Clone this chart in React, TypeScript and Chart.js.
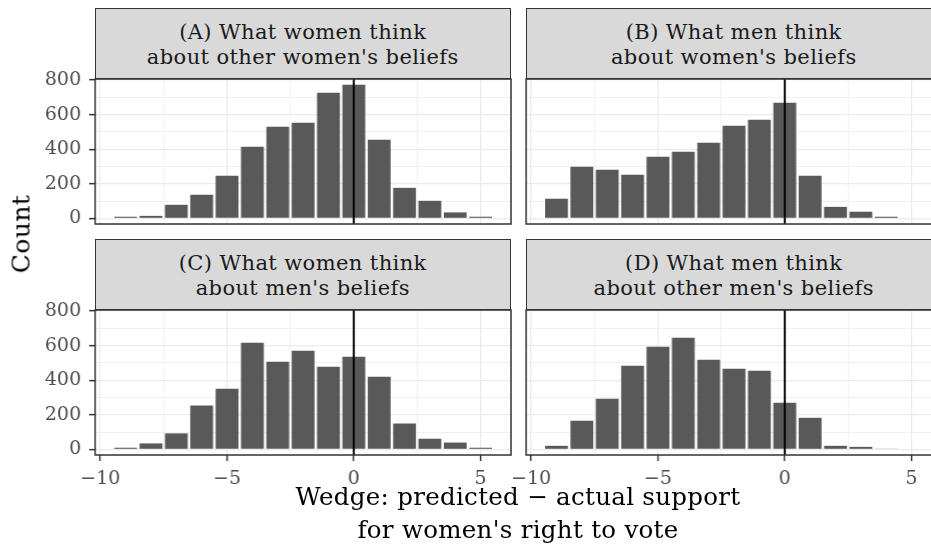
import React, { useEffect, useRef } from "react";
import { Chart, registerables } from "chart.js";

Chart.register(...registerables);

// ---------------- data ----------------
const binCentersLong = [-9, -8, -7, -6, -5, -4, -3, -2, -1, 0, 1, 2, 3, 4, 5];
const binCentersShort = [-9, -8, -7, -6, -5, -4, -3, -2, -1, 0, 1, 2, 3, 4];

const countsA = [10, 15, 79, 137, 247, 415, 530, 553, 727, 773, 455, 177, 102, 35, 10];
const countsB = [114, 299, 281, 253, 357, 386, 438, 536, 571, 669, 247, 67, 39, 10];
const countsC = [10, 35, 93, 254, 351, 617, 507, 571, 478, 536, 420, 150, 62, 40, 10];
const countsD = [21, 166, 293, 484, 594, 646, 519, 467, 455, 270, 183, 21, 15, 3];

const titleA = ["(A) What women think", "about other women's beliefs"];
const titleB = ["(B) What men think", "about women's beliefs"];
const titleC = ["(C) What women think", "about men's beliefs"];
const titleD = ["(D) What men think", "about other men's beliefs"];

const xMajorTicks = [-10, -5, 0, 5];
const xMinorTicks = [-7.5, -2.5, 2.5];
const yMajorTicks = [0, 200, 400, 600, 800];
const yMinorTicks = [100, 300, 500, 700];
const xLimits = [-10.2, 6.2];
const yLimits = [-32, 806];
const referenceLineX = 0;

const yAxisTitle = "Count";
const xAxisTitle = ["Wedge: predicted \u2212 actual support", "for women's right to vote"];

// ---------------- layout / style ----------------
const FONT = "'DejaVu Serif', serif";
const PANEL_W = 415.5;
const PANEL_H = 145;
const COL_X = [95, 526];
const ROW_Y = [79, 310];
const STRIP_H = 70.7;
const BAR_COLOR = "#595959";
const GRID_COLOR = "#EBEBEB";
const FRAME_COLOR = "#333333";

const fmt = (v: number) => (v < 0 ? "\u2212" + Math.abs(v) : String(v));

const framePlugin = {
  id: "frameAndRef",
  afterDatasetsDraw(chart: any) {
    const { ctx, chartArea } = chart;
    const xs = chart.scales.x;
    const px = xs.getPixelForValue(referenceLineX);
    ctx.save();
    ctx.strokeStyle = "#000";
    ctx.lineWidth = 2;
    ctx.beginPath();
    ctx.moveTo(px, chartArea.top);
    ctx.lineTo(px, chartArea.bottom);
    ctx.stroke();
    ctx.strokeStyle = FRAME_COLOR;
    ctx.lineWidth = 1.5;
    ctx.strokeRect(chartArea.left, chartArea.top, chartArea.right - chartArea.left, chartArea.bottom - chartArea.top);
    ctx.restore();
  },
};

type PanelProps = {
  centers: number[];
  counts: number[];
  col: number;
  row: number;
  title: string[];
};

function Panel({ centers, counts, col, row, title }: PanelProps) {
  const ref = useRef<HTMLCanvasElement>(null);
  const showY = col === 0;
  const showX = row === 1;
  const leftAxisW = showY ? 95 : 30;
  const padT = 25;
  const padR = 8;
  const bottomAxisH = showX ? 45 : 2;
  const padB = 25;
  const canvasLeft = COL_X[col] - leftAxisW;
  const canvasTop = ROW_Y[row] - padT;
  const canvasW = leftAxisW + PANEL_W + padR;
  const canvasH = padT + PANEL_H + bottomAxisH + padB;

  useEffect(() => {
    if (!ref.current) return;
    const xTicksAll = [...xMajorTicks, ...xMinorTicks].sort((a, b) => a - b);
    const yTicksAll = [...yMajorTicks, ...yMinorTicks].sort((a, b) => a - b);
    const chart = new Chart(ref.current, {
      type: "bar",
      data: {
        datasets: [
          {
            data: centers.map((x, i) => ({ x, y: counts[i] })),
            backgroundColor: BAR_COLOR,
            borderWidth: 0,
            categoryPercentage: 1,
            barPercentage: 0.9,
          } as any,
        ],
      },
      options: {
        animation: false,
        responsive: false,
        events: [],
        layout: { padding: { top: padT, right: padR, bottom: padB, left: 0 } },
        plugins: { legend: { display: false }, tooltip: { enabled: false }, title: { display: false } },
        scales: {
          x: {
            type: "linear",
            min: xLimits[0],
            max: xLimits[1],
            offset: false,
            bounds: "data",
            afterBuildTicks: (s: any) => {
              s.ticks = xTicksAll.map((v) => ({ value: v }));
            },
            afterFit: (s: any) => {
              s.height = bottomAxisH;
            },
            grid: {
              offset: false,
              color: GRID_COLOR,
              lineWidth: (c: any) => (xMajorTicks.includes(c.tick?.value) ? 1.3 : 0.7),
              drawTicks: showX,
              tickLength: 6,
              tickWidth: 1.5,
              tickColor: (c: any) => (xMajorTicks.includes(c.tick?.value) ? FRAME_COLOR : "rgba(0,0,0,0)"),
            },
            border: { display: false },
            ticks: {
              display: showX,
              autoSkip: false,
              maxRotation: 0,
              minRotation: 0,
              padding: 7,
              color: "#4D4D4D",
              font: { family: FONT, size: 19 },
              callback: (v: any) => (xMajorTicks.includes(Number(v)) ? fmt(Number(v)) : ""),
            },
          } as any,
          y: {
            type: "linear",
            min: yLimits[0],
            max: yLimits[1],
            bounds: "data",
            afterBuildTicks: (s: any) => {
              s.ticks = yTicksAll.map((v) => ({ value: v }));
            },
            afterFit: (s: any) => {
              s.width = leftAxisW;
            },
            grid: {
              color: GRID_COLOR,
              lineWidth: (c: any) => (yMajorTicks.includes(c.tick?.value) ? 1.3 : 0.7),
              drawTicks: showY,
              tickLength: 6,
              tickWidth: 1.5,
              tickColor: (c: any) => (yMajorTicks.includes(c.tick?.value) ? FRAME_COLOR : "rgba(0,0,0,0)"),
            },
            border: { display: false },
            ticks: {
              display: showY,
              autoSkip: false,
              padding: 8,
              color: "#4D4D4D",
              font: { family: FONT, size: 19 },
              callback: (v: any) => (yMajorTicks.includes(Number(v)) ? fmt(Number(v)) : ""),
            },
          } as any,
        },
      },
      plugins: [framePlugin],
    });
    return () => chart.destroy();
  }, []);

  return (
    <>
      <div
        style={{
          position: "absolute",
          left: COL_X[col],
          top: ROW_Y[row] - STRIP_H,
          width: PANEL_W,
          height: STRIP_H,
          boxSizing: "border-box",
          border: `1.5px solid ${FRAME_COLOR}`,
          background: "#D9D9D9",
          display: "flex",
          alignItems: "center",
          justifyContent: "center",
          textAlign: "center",
          fontFamily: FONT,
          fontSize: 21,
          letterSpacing: "0.4px",
          lineHeight: "25px",
          color: "#1A1A1A",
          whiteSpace: "nowrap",
        }}
      >
        <div style={{ marginTop: 2 }}>
          {title[0]}
          <br />
          {title[1]}
        </div>
      </div>
      <canvas
        ref={ref}
        width={canvasW}
        height={canvasH}
        style={{ position: "absolute", left: canvasLeft, top: canvasTop, width: canvasW, height: canvasH }}
      />
    </>
  );
}

export default function App() {
  return (
    <div
      style={{
        position: "fixed",
        left: 0,
        top: 0,
        width: 931,
        height: 552,
        overflow: "hidden",
        background: "#fff",
      }}
    >
      <Panel centers={binCentersLong} counts={countsA} col={0} row={0} title={titleA} />
      <Panel centers={binCentersShort} counts={countsB} col={1} row={0} title={titleB} />
      <Panel centers={binCentersLong} counts={countsC} col={0} row={1} title={titleC} />
      <Panel centers={binCentersShort} counts={countsD} col={1} row={1} title={titleD} />
      <div
        style={{
          position: "absolute",
          left: 21,
          top: 234,
          transform: "translate(-50%, -50%) rotate(-90deg)",
          fontFamily: FONT,
          fontSize: 25,
          letterSpacing: "0.4px",
          color: "#000",
          whiteSpace: "nowrap",
        }}
      >
        {yAxisTitle}
      </div>
      <div
        style={{
          position: "absolute",
          left: 518,
          top: 480,
          transform: "translateX(-50%)",
          fontFamily: FONT,
          fontSize: 24.5,
          letterSpacing: "0.3px",
          lineHeight: "33px",
          color: "#000",
          textAlign: "center",
          whiteSpace: "nowrap",
        }}
      >
        {xAxisTitle[0]}
        <br />
        {xAxisTitle[1]}
      </div>
    </div>
  );
}
